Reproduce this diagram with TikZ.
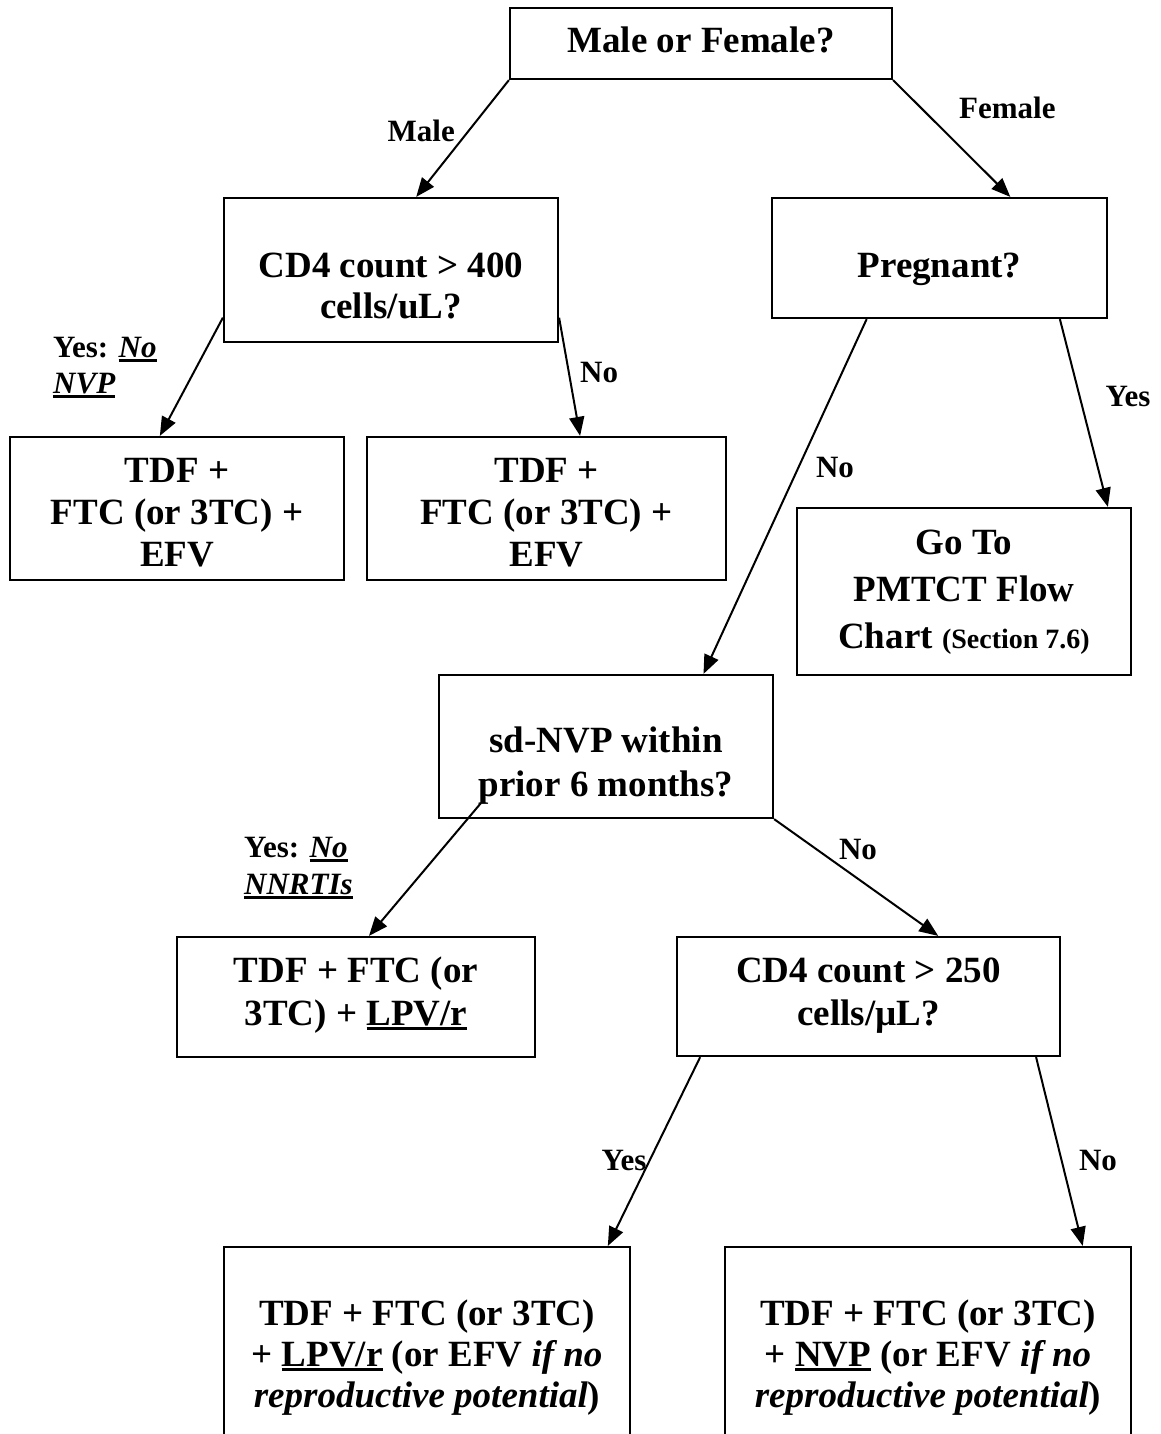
\documentclass[tikz,border=0pt]{standalone}
\usepackage{fontspec}
\setmainfont{Liberation Serif}
\usetikzlibrary{arrows.meta,calc}
% heavy underline for bold text
\newcommand\undl[1]{\setbox0\hbox{#1}\rlap{\rule[-4.5pt]{\wd0}{2.4pt}}\box0\relax}
\begin{document}
\begin{tikzpicture}[x=1pt,y=-1pt,
  box/.style={draw, line width=2.2pt, inner sep=0pt},
  main/.style={font=\fontsize{37}{42}\selectfont\bfseries, inner sep=0pt, anchor=base},
  lbl/.style={font=\fontsize{31}{36}\selectfont\bfseries, inner sep=0pt},
  arr/.style={line width=2pt, -{Triangle[length=19pt,width=15pt]}}]
\useasboundingbox (0,0) rectangle (1160,1434);
\clip (0,0) rectangle (1160,1434);

% ---- decision and result boxes ----
\node[box, minimum width=382pt, minimum height=71pt]  (A) at (701,43.5) {};
\node[box, minimum width=334pt, minimum height=144pt] (B) at (391,270) {};
\node[box, minimum width=335pt, minimum height=120pt] (C) at (939.5,258) {};
\node[box, minimum width=334pt, minimum height=143pt] (D) at (177,508.5) {};
\node[box, minimum width=359pt, minimum height=143pt] (E) at (546.5,508.5) {};
\node[box, minimum width=334pt, minimum height=167pt] (F) at (964,591.5) {};
\node[box, minimum width=334pt, minimum height=143pt] (G) at (606,746.5) {};
\node[box, minimum width=358pt, minimum height=120pt] (H) at (356,997) {};
\node[box, minimum width=383pt, minimum height=119pt] (I) at (868.5,996.5) {};
\node[box, minimum width=406pt, minimum height=260pt] (J) at (427,1377) {};
\node[box, minimum width=406pt, minimum height=260pt] (K) at (928,1377) {};

% ---- box texts ----
\node[main] (tA)  at (701,53)  {Male or Female?};
\node[main] (tB1) at (391,277) {CD4 count > 400};
\node[main] (tB2) at (391,318) {cells/uL?};
\node[main] (tC)  at (939.5,277) {Pregnant?};
\node[main] (tD1) at (177,482) {TDF +};
\node[main] (tD2) at (177,524) {FTC (or 3TC) +};
\node[main] (tD3) at (177,566) {EFV};
\node[main] (tE1) at (546.5,482) {TDF +};
\node[main] (tE2) at (546.5,524) {FTC (or 3TC) +};
\node[main] (tE3) at (546.5,566) {EFV};
\node[main] (tF1) at (964,554) {Go To};
\node[main] (tF2) at (964,601) {PMTCT Flow};
\node[main] (tF3) at (964,648) {Chart {\fontsize{28}{32}\selectfont (Section 7.6)}};
\node[main] (tG1) at (606,752) {sd-NVP within};
\node[main] (tG2) at (606,796) {prior 6 months?};
\node[main] (tH1) at (356,982) {TDF + FTC (or};
\node[main] (tH2) at (356,1025) {3TC) + \undl{LPV/r}};
\node[main] (tI1) at (868.5,982) {CD4 count > 250};
\node[main] (tI2) at (868.5,1025) {cells/µL?};
\node[main] (tJ1) at (427,1325) {TDF + FTC (or 3TC)};
\node[main] (tJ2) at (427,1366) {+ \undl{LPV/r} (or EFV \textit{if no}};
\node[main] (tJ3) at (427,1407) {\textit{reproductive potential})};
\node[main] (tK1) at (928,1325) {TDF + FTC (or 3TC)};
\node[main] (tK2) at (928,1366) {+ \undl{NVP} (or EFV \textit{if no}};
\node[main] (tK3) at (928,1407) {\textit{reproductive potential})};

% ---- connectors ----
\draw[arr] (A.south west) -- ($(B.north west)!0.575!(B.north east)$);
\draw[arr] (A.south east) -- ($(C.north west)!0.710!(C.north east)$);
\draw[arr] ($(B.north west)!0.826!(B.south west)$) -- ($(D.north west)!0.449!(D.north east)$);
\draw[arr] ($(B.north east)!0.826!(B.south east)$) -- ($(E.north west)!0.593!(E.north east)$);
\draw[arr] ($(C.south west)!0.284!(C.south east)$) -- ($(G.north west)!0.790!(G.north east)$);
\draw[arr] ($(C.south west)!0.857!(C.south east)$) -- ($(F.north west)!0.928!(F.north east)$);
\draw[arr] ($(G.south west)+(43,-16)$) -- ($(H.north west)!0.536!(H.north east)$);
\draw[arr] (G.south east) -- ($(I.north west)!0.681!(I.north east)$);
\draw[arr] ($(I.south west)!0.063!(I.south east)$) -- ($(J.north west)!0.943!(J.north east)$);
\draw[arr] ($(I.south west)!0.935!(I.south east)$) -- ($(K.north west)!0.879!(K.north east)$);

% ---- connector labels ----
\node[lbl, anchor=base east] (lMale)   at (455,142)  {Male};
\node[lbl, anchor=base west] (lFemale) at (959,119)  {Female};
\node[lbl, anchor=base west] (lBy1)    at (53,357)   {Yes: \undl{\itshape No}};
\node[lbl, anchor=base west] (lBy2)    at (53,393)   {\undl{\itshape NVP}};
\node[lbl, anchor=base west] (lBn)     at (580,382)  {No};
\node[lbl, anchor=base]      (lCn)     at (835,477)  {No};
\node[lbl, anchor=base]      (lCy)     at (1128,406) {Yes};
\node[lbl, anchor=base west] (lGy1)    at (244,857)  {Yes: \undl{\itshape No}};
\node[lbl, anchor=base west] (lGy2)    at (244,894)  {\undl{\itshape NNRTIs}};
\node[lbl, anchor=base]      (lGn)     at (858,859)  {No};
\node[lbl, anchor=base]      (lIy)     at (624,1170) {Yes};
\node[lbl, anchor=base]      (lIn)     at (1098,1170) {No};
\end{tikzpicture}
\end{document}
